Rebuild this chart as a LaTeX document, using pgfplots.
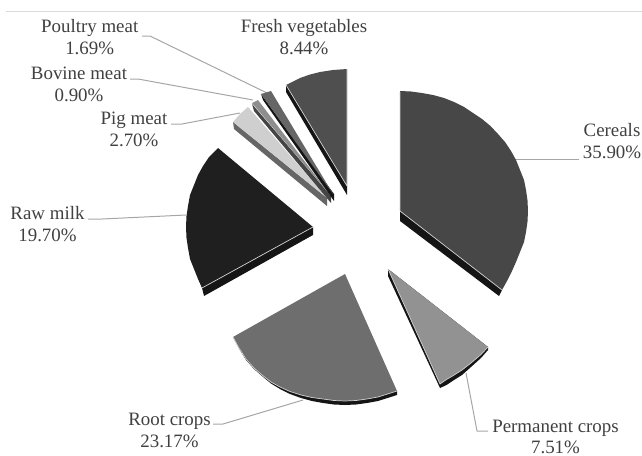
\documentclass[border=0pt]{standalone}
\usepackage{pgfplots}
\pgfplotsset{compat=1.18}
\usepackage{fontspec}
\setmainfont{Liberation Serif}
\definecolor{txt}{HTML}{404040}
\definecolor{lead}{HTML}{A6A6A6}
\definecolor{rim}{HTML}{D0D0D0}
\definecolor{cCereal}{HTML}{474747}
\definecolor{cPerm}{HTML}{929292}
\definecolor{cRoot}{HTML}{6E6E6E}
\definecolor{cMilk}{HTML}{1F1F1F}
\definecolor{cPig}{HTML}{CFCFCF}
\definecolor{cBov}{HTML}{8E8E8E}
\definecolor{cPoul}{HTML}{666666}
\definecolor{cVeg}{HTML}{4F4F4F}
\definecolor{dark}{HTML}{151515}
\tikzset{lab/.style={align=center,text=txt,inner sep=0pt,font=\fontsize{18.9}{22}\selectfont}}
\pgfplotsset{
  leader/.style={draw=lead,line width=1pt,line join=round},
  edge/.style={draw=rim,line width=0.7pt,line join=round},
  top/.style={fill=#1,draw=none},
  side/.style={fill=#1,draw=none}
}
\begin{document}
\begin{tikzpicture}
\path[use as bounding box,clip] (0,0) rectangle (642pt,455pt);
\begin{axis}[
  scale only axis,width=642pt,height=455pt,
  xmin=0,xmax=642,ymin=0,ymax=455,y dir=reverse,
  hide axis,clip=false]
% top rule
\addplot[draw=black!15,line width=1pt] coordinates {(6,11.5) (642,11.5)};
% leaders
\addplot[leader] coordinates {(142,36) (150,36) (267,93)};
\addplot[leader] coordinates {(130,79) (138,79) (253,100)};
\addplot[leader] coordinates {(171,124) (182,124) (240,113)};
\addplot[leader] coordinates {(515,159) (579,159)};
\addplot[leader] coordinates {(88,219) (102,219) (186,215)};
\addplot[leader] coordinates {(213,424) (223,424) (303,400)};
\addplot[leader] coordinates {(466,373) (477,431) (488,431)};
% Cereals 35.90
\addplot[side=dark] coordinates {(400,211) (502,290) (499,296) (400,221)} -- cycle;
\addplot[top=cCereal] coordinates {(400,211) (400,91) (411,91.5) (422,93) (433,95) (444,98) (454,102) (464,107) (473,113) (482,119) (490.5,126) (498,134) (505,142) (511,151) (516,160) (520,170) (524,180) (526,190) (527.5,200.5) (528,211) (527.5,221.5) (526,232) (524,242) (520,252) (516,262) (512,271) (507,281) (502,290)} -- cycle;
\addplot[edge] coordinates {(400,92) (400,211) (502,290)};
% Permanent crops 7.51
\addplot[side=dark] coordinates {(388,269) (388,276) (440,388) (446.5,385) (452.5,381) (462,375) (471,367) (481,358) (488,350) (488,347)} -- cycle;
\addplot[top=cPerm] coordinates {(388,269) (488,347) (481,354.5) (471,363) (462,370) (452.5,376) (446.5,379.5) (440,384)} -- cycle;
\addplot[edge] coordinates {(388,269) (440,384) (446.5,379.5) (452.5,376) (462,370) (471,363) (481,354.5) (488,347)};
% Root crops 23.17
\addplot[side=dark] coordinates {(397,391) (397,395) (378,401) (367,403) (356,404.5) (345,405) (334,404.5) (323,403) (312,401) (301,398) (290,394) (280,389) (271,383.5) (262,376) (254,369) (246,360) (239,348.5) (233,337)} -- cycle;
\addplot[top=cRoot] coordinates {(345,274) (397,391) (378,397) (367,399) (356,400.5) (345,401) (334,400.5) (323,399) (312,397.5) (301,395) (290,391.5) (280,387) (271,382) (262,375) (254,368) (246,359) (239,348) (233,337)} -- cycle;
\addplot[edge] coordinates {(397,391) (378,397) (367,399) (356,400.5) (345,401) (334,400.5) (323,399) (312,397.5) (301,395) (290,391.5) (280,387) (271,382) (262,375) (254,368) (246,359) (239,348) (233,337)};
% Raw milk 19.70
\addplot[side=dark] coordinates {(313,227) (313,235) (204,296) (202,288)} -- cycle;
\addplot[top=cMilk] coordinates {(313,227) (202,288) (198,279) (194,269) (190,259) (188,248) (186.5,238) (186,227) (186.5,216) (188,206) (190,195) (194,185) (198,175) (203,166) (209,157) (218,148)} -- cycle;
\addplot[edge] coordinates {(313,227) (202,288)};
% Pig meat 2.70
\addplot[side=cPoul] coordinates {(233,122) (234,129) (327,206) (327,198)} -- cycle;
\addplot[top=cPig] coordinates {(327,198) (233,122) (240,114) (248,107)} -- cycle;
% Bovine meat 0.90
\addplot[side=dark!80] coordinates {(252,104) (254,111) (331,203) (331,196)} -- cycle;
\addplot[top=cBov] coordinates {(331,196) (252,103) (258,100)} -- cycle;
% Poultry meat 1.69
\addplot[side=dark] coordinates {(261,94) (263,100) (334,201) (334,194)} -- cycle;
\addplot[top=cPoul] coordinates {(333,194) (261,94) (271,91)} -- cycle;
% Fresh vegetables 8.44
\addplot[side=dark] coordinates {(286,85) (286,92) (347,195) (347,186)} -- cycle;
\addplot[top=cVeg] coordinates {(347,186) (286,85) (293,81.5) (300,78) (310,74.5) (320,72) (333,70) (347,69)} -- cycle;
\addplot[edge] coordinates {(286,85) (347,186) (347,69)};
% labels
\node[lab] at (axis cs:89.7,37) {Poultry meat\\1.69\%};
\node[lab] at (axis cs:304,37) {Fresh vegetables\\8.44\%};
\node[lab] at (axis cs:79,84) {Bovine meat\\0.90\%};
\node[lab] at (axis cs:134,129) {Pig meat\\2.70\%};
\node[lab] at (axis cs:612,141.5) {Cereals\\35.90\%};
\node[lab] at (axis cs:47.5,224) {Raw milk\\19.70\%};
\node[lab] at (axis cs:169.5,430) {Root crops\\23.17\%};
\node[lab] at (axis cs:555.5,428) {Permanent crops};
\node[lab] at (axis cs:555.5,447.5) {7.51\%};
\end{axis}
\end{tikzpicture}
\end{document}
